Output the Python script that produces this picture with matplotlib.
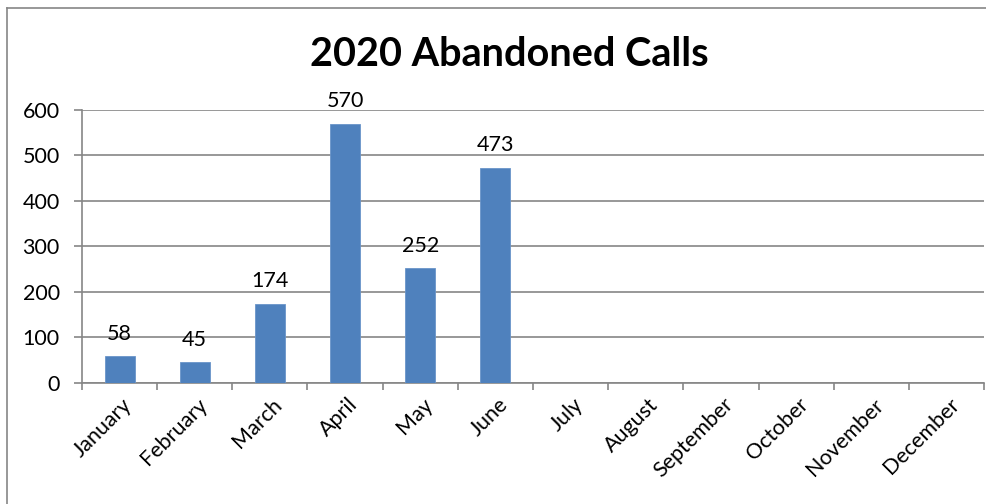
import numpy as np
import matplotlib
matplotlib.use("Agg")
import matplotlib.pyplot as plt
from matplotlib.lines import Line2D

# Data
months = ["January", "February", "March", "April", "May", "June",
          "July", "August", "September", "October", "November", "December"]
calls = [58, 45, 174, 570, 252, 473, None, None, None, None, None, None]
yticks = [0, 100, 200, 300, 400, 500, 600]

plt.rcParams["font.family"] = ["Lato", "DejaVu Sans"]

fig = plt.figure(figsize=(9.87, 5.04), dpi=100, facecolor="white")
W, H = 987, 504
left, right, top, bottom = 82, 984, 110, 382.7
ax = fig.add_axes([left / W, 1 - bottom / H, (right - left) / W, (bottom - top) / H])

grid_c = "#868686"
x = np.arange(len(months))
vals = [v if v is not None else 0 for v in calls]
has = [v is not None for v in calls]

ax.bar(x[:6], vals[:6], width=0.4, color="#4F81BD", edgecolor="#6A95C9",
       linewidth=0.6, zorder=3)
for xi, v, ok in zip(x, vals, has):
    if ok:
        ax.annotate(str(v), (xi, v), xytext=(0, 9), textcoords="offset points",
                    ha="center", va="bottom", fontsize=15.5, color="black")

ax.set_xlim(-0.5, 11.5)
ax.set_ylim(0, 600)
ax.set_yticks(yticks)
ax.set_yticklabels([str(t) for t in yticks], fontsize=15.5)
ax.yaxis.grid(True, color=grid_c, linewidth=1.2, zorder=0)
ax.set_axisbelow(True)

# x ticks sit between categories
ax.set_xticks(np.arange(-0.5, 12, 1.0))
ax.set_xticklabels([])
ax.tick_params(axis="x", direction="out", length=5, color=grid_c, width=1.2)
ax.tick_params(axis="y", direction="out", length=6, color=grid_c, width=1.2, pad=10)
for xi, m in zip(x, months):
    ax.text(xi + 0.03, -26, m, rotation=45, ha="right", va="top",
            rotation_mode="anchor", fontsize=15.5)

for s in ["top", "right"]:
    ax.spines[s].set_visible(False)
for s in ["left", "bottom"]:
    ax.spines[s].set_color(grid_c)
    ax.spines[s].set_linewidth(1.2)

fig.text(509 / W, 1 - 55 / H, "2020 Abandoned Calls", ha="center", va="center",
         fontsize=28.5, fontweight="bold")

# chart frame (only left and top edges visible)
fig.add_artist(Line2D([7 / W, 7 / W], [0, 1 - 8 / H], color=grid_c, linewidth=1.2,
                      transform=fig.transFigure))
fig.add_artist(Line2D([7 / W, 1], [1 - 8 / H, 1 - 8 / H], color=grid_c, linewidth=1.2,
                      transform=fig.transFigure))

fig.savefig("out.png", dpi=100)
